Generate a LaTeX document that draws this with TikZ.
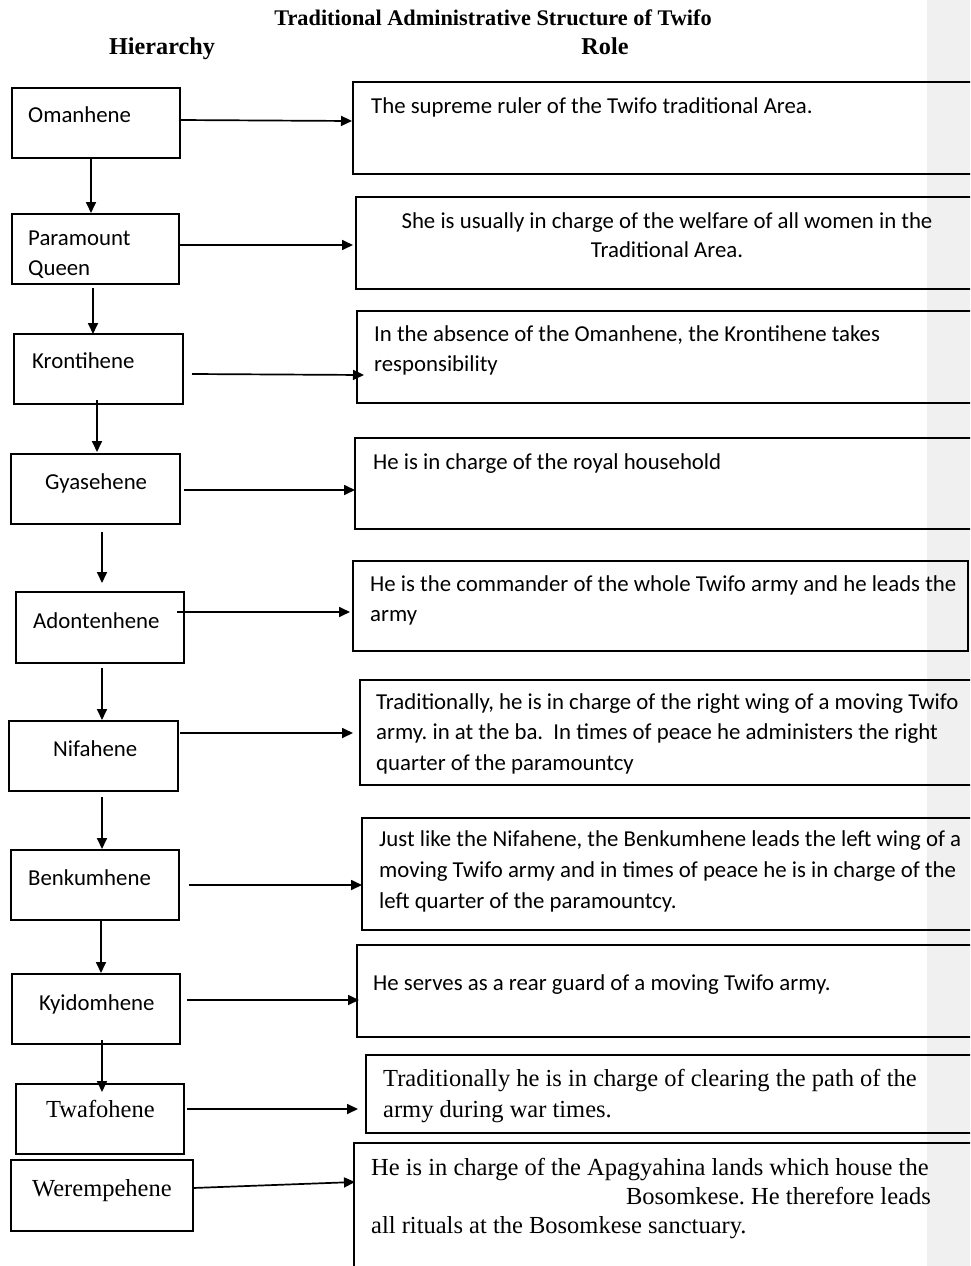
\documentclass[tikz,border=0pt]{standalone}
\usepackage{fontspec}
\setmainfont{Carlito}
\newfontfamily\tnr{Liberation Serif}
\usetikzlibrary{arrows.meta}
\definecolor{barcol}{RGB}{240,240,240}
\frenchspacing
\begin{document}
\begin{tikzpicture}[x=1pt,y=-1pt,
  box/.style={draw, line width=1.5pt, inner sep=0pt, outer sep=0pt, anchor=north west},
  lab/.style={font=\fontsize{22.8}{27}\selectfont, inner sep=0pt, anchor=base west},
  tlab/.style={font=\tnr\fontsize{24.5}{29}\selectfont, inner sep=0pt, anchor=base west},
  head/.style={font=\tnr\bfseries\fontsize{22.3}{27}\selectfont, inner sep=0pt, anchor=base},
  arr/.style={-{Triangle[length=11pt,width=10pt]}, line width=1.7pt}]
\useasboundingbox (0,0) rectangle (970,1266);
\clip (0,0) rectangle (970,1266);
\fill[barcol] (927,0) rectangle (970,1266);

% headings
\node[head] (title) at (493,25) {Traditional Administrative Structure of Twifo};
\node[head, font=\tnr\bfseries\fontsize{24.2}{28}\selectfont] (hier) at (162,54) {Hierarchy};
\node[head, font=\tnr\bfseries\fontsize{24.2}{28}\selectfont] (role) at (605,54) {Role};

% hierarchy boxes
\node[box, minimum width=168pt, minimum height=70pt] (h1) at (12,88) {};
\node[box, minimum width=167pt, minimum height=70pt] (h2) at (12,214) {};
\node[box, minimum width=169pt, minimum height=70pt] (h3) at (14,334) {};
\node[box, minimum width=169pt, minimum height=70pt] (h4) at (11,454) {};
\node[box, minimum width=168pt, minimum height=71pt] (h5) at (16,592) {};
\node[box, minimum width=169pt, minimum height=70pt] (h6) at (9,721) {};
\node[box, minimum width=168pt, minimum height=70pt] (h7) at (11,850) {};
\node[box, minimum width=168pt, minimum height=70pt] (h8) at (12,974) {};
\node[box, minimum width=168pt, minimum height=70pt] (h9) at (16,1084) {};
\node[box, minimum width=182pt, minimum height=71pt] (h10) at (11,1160) {};

\node[lab] (l1) at (28,122) {Omanhene};
\node[lab] (l2a) at (28,245) {Paramount};
\node[lab] (l2b) at (28,275) {Queen};
\node[lab] (l3) at (32,368) {Krontihene};
\node[lab] (l4) at (45,489) {Gyasehene};
\node[lab] (l5) at (33,628) {Adontenhene};
\node[lab] (l6) at (53,756) {Nifahene};
\node[lab] (l7) at (28,885) {Benkumhene};
\node[lab] (l8) at (39,1010) {Kyidomhene};
\node[tlab] (l9) at (46,1117) {Twafohene};
\node[tlab] (l10) at (32,1196) {Werempehene};

% role boxes
\node[box, minimum width=622pt, minimum height=92pt] (r1) at (353,82) {};
\node[box, minimum width=620pt, minimum height=92pt] (r2) at (356,197) {};
\node[box, minimum width=620pt, minimum height=92pt] (r3) at (357,311) {};
\node[box, minimum width=620pt, minimum height=91pt] (r4) at (355,438) {};
\node[box, minimum width=615pt, minimum height=90pt] (r5) at (353,561) {};
\node[box, minimum width=620pt, minimum height=105pt] (r6) at (360,680) {};
\node[box, minimum width=620pt, minimum height=112pt] (r7) at (362,818) {};
\node[box, minimum width=620pt, minimum height=92pt] (r8) at (357,945) {};
\node[box, minimum width=620pt, minimum height=78pt] (r9) at (366,1055) {};
\node[box, minimum width=620pt, minimum height=140pt] (r10) at (354,1143) {};

\node[lab] (t1) at (371,113) {The supreme ruler of the Twifo traditional Area.};
\node[lab, anchor=base] (t2a) at (667,228) {She is usually in charge of the welfare of all women in the};
\node[lab, anchor=base] (t2b) at (667,257) {Traditional Area.};
\node[lab] (t3a) at (374,341) {In the absence of the Omanhene, the Krontihene takes};
\node[lab] (t3b) at (374,371) {responsibility};
\node[lab] (t4) at (373,469) {He is in charge of the royal household};
\node[lab] (t5a) at (370,591) {He is the commander of the whole Twifo army and he leads the};
\node[lab] (t5b) at (370,621) {army};
\node[lab] (t6a) at (376,709) {Traditionally, he is in charge of the right wing of a moving Twifo};
\node[lab] (t6b) at (376,739) {army. in at the ba.\ \ In times of peace he administers the right};
\node[lab] (t6c) at (376,770) {quarter of the paramountcy};
\node[lab] (t7a) at (379,846) {Just like the Nifahene, the Benkumhene leads the left wing of a};
\node[lab] (t7b) at (379,877) {moving Twifo army and in times of peace he is in charge of the};
\node[lab] (t7c) at (379,908) {left quarter of the paramountcy.};
\node[lab] (t8) at (373,990) {He serves as a rear guard of a moving Twifo army.};
\node[tlab] (t9a) at (383,1086) {Traditionally he is in charge of clearing the path of the};
\node[tlab] (t9b) at (383,1117) {army during war times.};
\node[tlab] (t10a) at (371,1175) {He is in charge of the Apagyahina lands which house the};
\node[tlab, anchor=base east] (t10b) at (931,1204) {Bosomkese. He therefore leads};
\node[tlab] (t10c) at (371,1233) {all rituals at the Bosomkese sanctuary.};

% vertical arrows
\draw[arr] ([shift={(-5,1)}]h1.south) -- ([shift={(-4.5,-1)}]h2.north);
\draw[arr] ([shift={(-2.5,4)}]h2.south) -- ([shift={(-5.5,0)}]h3.north);
\draw[arr] ([shift={(-1.5,-4)}]h3.south) -- ([shift={(1.5,-2)}]h4.north);
\draw[arr] ([shift={(6.5,8)}]h4.south) -- ([shift={(2,-9)}]h5.north);
\draw[arr] ([shift={(2,5)}]h5.south) -- ([shift={(8.5,-1)}]h6.north);
\draw[arr] ([shift={(8.5,6)}]h6.south) -- ([shift={(7,-1)}]h7.north);
\draw[arr] ([shift={(6,0)}]h7.south) -- ([shift={(5,-1)}]h8.north);
\draw[arr] ([shift={(6,-4)}]h8.south) -- ([shift={(2,8)}]h9.north);

% horizontal arrows
\draw[arr] ([shift={(-1,-3)}]h1.east) -- ([shift={(-1,-7)}]r1.west);
\draw[arr] ([shift={(0,-4)}]h2.east) -- ([shift={(-3,2)}]r2.west);
\draw[arr] ([shift={(9,5)}]h3.east) -- ([shift={(7,18)}]r3.west);
\draw[arr] ([shift={(4,1)}]h4.east) -- ([shift={(0,6.5)}]r4.west);
\draw[arr] ([shift={(-7,-15.5)}]h5.east) -- ([shift={(-3,6)}]r5.west);
\draw[arr] ([shift={(2,-23)}]h6.east) -- ([shift={(-7,0.5)}]r6.west);
\draw[arr] ([shift={(10,0)}]h7.east) -- ([shift={(0,11)}]r7.west);
\draw[arr] ([shift={(7,-9)}]h8.east) -- ([shift={(2,9)}]r8.west);
\draw[arr] ([shift={(3,-10)}]h9.east) -- ([shift={(-8,15)}]r9.west);
\draw[arr] ([shift={(0,-7.5)}]h10.east) -- ([shift={(1,-31)}]r10.west);
\end{tikzpicture}
\end{document}
